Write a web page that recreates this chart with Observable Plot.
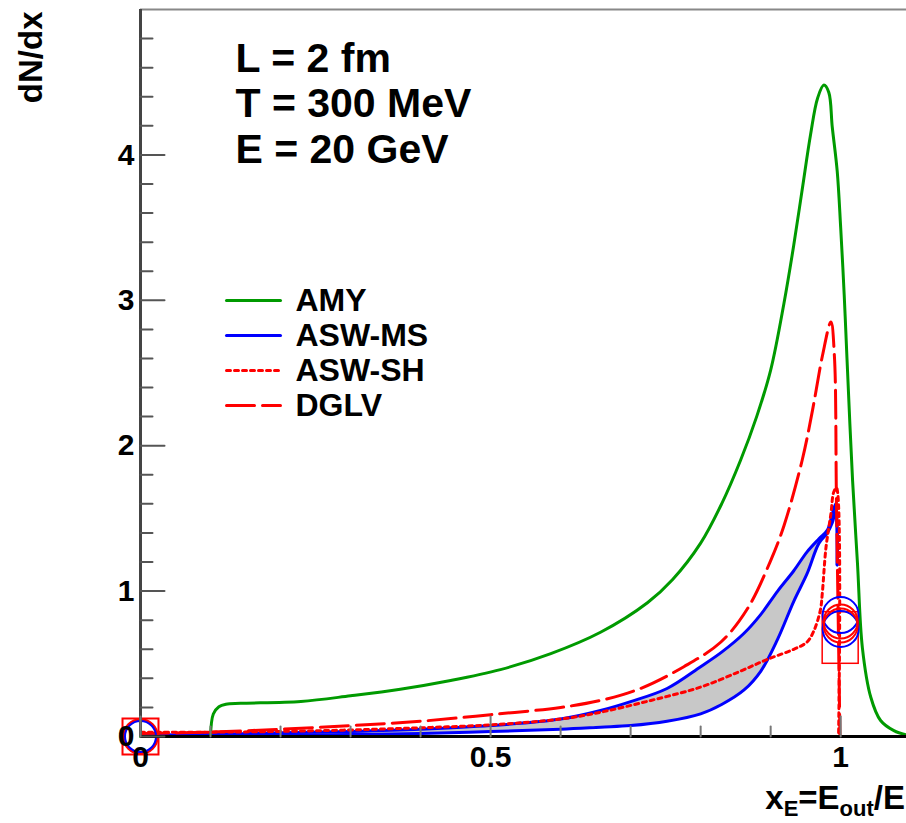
<!DOCTYPE html>
<html><head><meta charset="utf-8">
<script src="https://cdn.jsdelivr.net/npm/d3@7"></script>
<script src="https://cdn.jsdelivr.net/npm/@observablehq/plot@0.6"></script>
<style>
html,body{margin:0;padding:0;background:#fff;}
#chart{width:906px;height:823px;}
</style></head><body><div id="chart"></div>
<script>
// ---------------- data ----------------
const amyX = [0, 0.1, 0.1, 0.104, 0.112, 0.122, 0.143, 0.229, 0.3, 0.371, 0.443, 0.514, 0.586, 0.657, 0.724, 0.76, 0.8, 0.83, 0.857, 0.88, 0.9, 0.919, 0.933, 0.945, 0.957, 0.967, 0.976, 0.983, 0.988, 0.995, 1.0, 1.005, 1.009, 1.017, 1.024, 1.031, 1.043, 1.057, 1.076, 1.094];
const amyY = [0, 0, 0.0, 0.155, 0.205, 0.222, 0.228, 0.241, 0.28, 0.325, 0.385, 0.46, 0.57, 0.717, 0.92, 1.08, 1.33, 1.6, 1.9, 2.2, 2.52, 2.98, 3.38, 3.76, 4.14, 4.39, 4.48, 4.43, 4.19, 3.89, 3.5, 3.04, 2.6, 1.76, 1.19, 0.61, 0.27, 0.11, 0.04, 0.01];

const mtX   = [0, 0.1, 0.2, 0.3, 0.4, 0.5, 0.6, 0.657, 0.7, 0.752, 0.8, 0.83, 0.862, 0.886, 0.91, 0.933, 0.952, 0.969, 0.981, 0.988, 0.993, 0.995];
const mtUpY = [0.01, 0.015, 0.025, 0.035, 0.05, 0.075, 0.12, 0.179, 0.24, 0.33, 0.48, 0.58, 0.71, 0.84, 1.0, 1.14, 1.27, 1.36, 1.42, 1.53, 1.60, 1.18];
const mtLoY = [0.005, 0.007, 0.01, 0.014, 0.02, 0.034, 0.05, 0.064, 0.075, 0.105, 0.156, 0.22, 0.32, 0.45, 0.67, 0.93, 1.12, 1.33, 1.40, 1.47, 1.55, 1.18];

const shX = [0, 0.1, 0.2, 0.3, 0.4, 0.5, 0.6, 0.657, 0.729, 0.8, 0.857, 0.895, 0.933, 0.952, 0.962, 0.971, 0.974, 0.979, 0.986, 0.99, 0.994, 0.997];
const shY = [0.03, 0.03, 0.035, 0.045, 0.06, 0.08, 0.12, 0.167, 0.248, 0.34, 0.45, 0.53, 0.60, 0.65, 0.73, 0.87, 1.0, 1.30, 1.53, 1.68, 1.71, 0];

const dglvX = [0, 0.1, 0.2, 0.3, 0.4, 0.5, 0.6, 0.657, 0.714, 0.776, 0.829, 0.867, 0.9, 0.919, 0.945, 0.96, 0.974, 0.986, 0.991, 0.994, 0.999];
const dglvY = [0.02, 0.03, 0.05, 0.075, 0.105, 0.15, 0.2, 0.248, 0.33, 0.48, 0.65, 0.88, 1.21, 1.45, 1.90, 2.25, 2.62, 2.85, 2.62, 1.6, 0];

// weights drawn as markers at x = 0 and x = 1
const zeroBlueY = [0];
const zeroRedY = [0];
const zeroBoxY = [0];
const oneBlueY = [0.835, 0.74];
const oneRedY = [0.791, 0.763];
const oneBoxLo = [0.50];
const oneBoxHi = [0.855];

const seriesNames = ["AMY", "ASW-MS", "ASW-SH", "DGLV"];
const annotLines = ["L = 2 fm", "T = 300 MeV", "E = 20 GeV"];
const xTickValues = [0, 0.5, 1];
const xTickLabels = ["0", "0.5", "1"];
const yTickValues = [0, 1, 2, 3, 4];
const yTickLabels = ["0", "1", "2", "3", "4"];

// ---------------- styles / layout ----------------
const GREEN = "#009a00", BLUE = "#0000ff", RED = "#ff0000";
const seriesStroke = [GREEN, BLUE, RED, RED];
const seriesDash = [null, null, "4,4", "28,8"];
const FONT = "Liberation Sans, Arial, Helvetica, sans-serif";
const W = 906, H = 823;
const xDomain = [0, 1.094], yDomain = [0, 5];

const zip = (xs, ys) => xs.map((x, i) => ({x, y: ys[i]}));
const amy = zip(amyX, amyY);
const sh = zip(shX, shY);
const dglv = zip(dglvX, dglvY);
const band = mtX.map((x, i) => ({x, lo: mtLoY[i], hi: mtUpY[i]}));

const tickShape = {draw(ctx, l) { ctx.moveTo(0, 0); ctx.lineTo(0, -l); }};
const yMinor = d3.range(1, 25).map(i => i * 0.2).filter(v => Math.abs(v - Math.round(v)) > 1e-6);
const xMinor = d3.range(1, 11).map(i => i / 10).filter(v => Math.abs(v - 0.5) > 1e-6 && Math.abs(v - 1) > 1e-6);
const curve = "catmull-rom";

const marks = [
  // band
  Plot.areaY(band, {x: "x", y1: "lo", y2: "hi", fill: "#c8c8c8", curve}),
  Plot.line(band, {x: "x", y: "lo", stroke: BLUE, strokeWidth: 3, curve}),
  Plot.line(band, {x: "x", y: "hi", stroke: BLUE, strokeWidth: 3, curve}),
  Plot.line(amy, {x: "x", y: "y", stroke: GREEN, strokeWidth: 3, curve}),
  Plot.line(sh, {x: "x", y: "y", stroke: RED, strokeWidth: 3, strokeDasharray: seriesDash[2], curve}),
  Plot.line(dglv, {x: "x", y: "y", stroke: RED, strokeWidth: 3, strokeDasharray: seriesDash[3], curve}),
  // markers at x = 0
  Plot.dot(zeroBoxY, {x: () => 0, y: d => d, symbol: "square", r: 20.3, stroke: RED, strokeWidth: 2, fill: "none"}),
  Plot.dot(zeroRedY, {x: () => 0, y: d => d, r: 17, stroke: RED, strokeWidth: 2.5, fill: "none"}),
  Plot.dot(zeroBlueY, {x: () => 0, y: d => d, r: 15.5, stroke: BLUE, strokeWidth: 2, fill: "none"}),
  // markers at x = 1
  Plot.rect(oneBoxLo.map((v, i) => ({lo: v, hi: oneBoxHi[i]})), {x1: () => 1, x2: () => 1, y1: "lo", y2: "hi", insetLeft: -18, insetRight: -18, stroke: RED, strokeWidth: 1.5, fill: "none"}),
  Plot.dot(oneBlueY, {x: () => 1, y: d => d, r: 18, stroke: BLUE, strokeWidth: 2, fill: "none"}),
  Plot.dot(oneRedY, {x: () => 1, y: d => d, r: 17, stroke: RED, strokeWidth: 2, fill: "none"}),
  // frame / axes lines
  Plot.ruleY([yDomain[1]], {stroke: "#888", strokeWidth: 2}),
  Plot.ruleX([0], {stroke: "#444", strokeWidth: 3}),
  Plot.ruleY([0], {stroke: "#000", strokeWidth: 3}),
  // ticks (inside)
  Plot.vector(yTickValues, {y: d => d, frameAnchor: "left", length: 24, rotate: 90, anchor: "start", shape: tickShape, stroke: "#555", strokeWidth: 2}),
  Plot.vector(yMinor, {y: d => d, frameAnchor: "left", length: 12, rotate: 90, anchor: "start", shape: tickShape, stroke: "#555", strokeWidth: 2}),
  Plot.vector(xTickValues, {x: d => d, frameAnchor: "bottom", length: 20, rotate: 0, anchor: "start", shape: tickShape, stroke: "#777", strokeWidth: 2}),
  Plot.vector(xMinor, {x: d => d, frameAnchor: "bottom", length: 10, rotate: 0, anchor: "start", shape: tickShape, stroke: "#777", strokeWidth: 2}),
  // tick labels
  Plot.text(yTickValues, {y: d => d, text: (d, i) => yTickLabels[i], frameAnchor: "left", dx: -6, textAnchor: "end", lineAnchor: "middle", fontSize: 30, fontWeight: "bold", fill: "#000"}),
  Plot.text(xTickValues, {x: d => d, text: (d, i) => xTickLabels[i], frameAnchor: "bottom", dy: 21, lineAnchor: "middle", fontSize: 30, fontWeight: "bold", fill: "#000"}),
  // y title
  Plot.text(["dN/dx"], {text: d => d, frameAnchor: "top-left", dx: -109, dy: 2, rotate: -90, textAnchor: "end", lineAnchor: "middle", fontSize: 33, fontWeight: "bold", fill: "#000"}),
  // annotation
  Plot.text([annotLines.join("\n")], {text: d => d, frameAnchor: "top-left", dx: 95, dy: 153, textAnchor: "start", lineAnchor: "bottom", lineHeight: 1.1, fontSize: 41, fontWeight: "bold", fill: "#000"}),
  // legend
  ...seriesNames.map((s, i) => Plot.vector([s], {frameAnchor: "top-left", dx: 86, dy: 291 + 35 * i, length: 54, rotate: 90, anchor: "start", shape: tickShape, stroke: seriesStroke[i], strokeWidth: 3, strokeDasharray: seriesDash[i]})),
  ...seriesNames.map((s, i) => Plot.text([s], {text: d => d, frameAnchor: "top-left", dx: 155, dy: 291 + 35 * i, textAnchor: "start", lineAnchor: "middle", fontSize: 32, fontWeight: "bold", fill: "#000"}))
];

const chart = Plot.plot({
  width: W, height: H,
  marginLeft: 140, marginRight: 0, marginTop: 9, marginBottom: 87,
  x: {domain: xDomain, axis: null},
  y: {domain: yDomain, axis: null},
  style: {fontFamily: FONT, background: "#fff", color: "#000", overflow: "visible"},
  marks
});
document.getElementById("chart").appendChild(chart);

// x axis title with subscripts
const svg = d3.select(chart);
const t = svg.append("text").attr("x", W - 1).attr("y", 809).attr("text-anchor", "end")
  .attr("font-size", 33).attr("font-weight", "bold").attr("font-family", FONT).attr("fill", "#000");
t.append("tspan").text("x");
t.append("tspan").attr("font-size", 22).attr("dy", 7).text("E");
t.append("tspan").attr("dy", -7).text("=E");
t.append("tspan").attr("font-size", 22).attr("dy", 7).text("out");
t.append("tspan").attr("dy", -7).text("/E");
</script>
</body></html>
